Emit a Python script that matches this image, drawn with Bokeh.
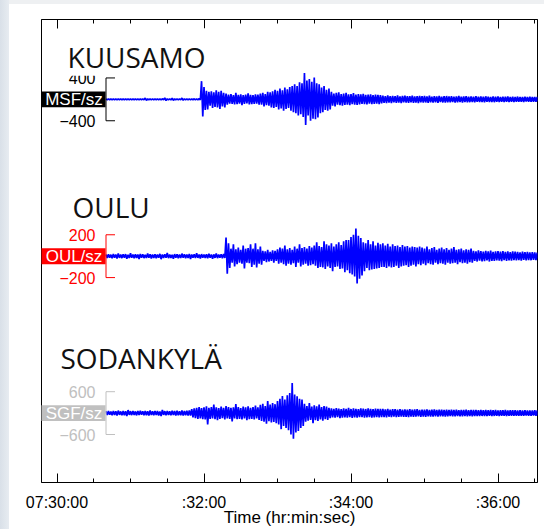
from bokeh.embed import file_html
from bokeh.models import BoxAnnotation, FixedTicker, Label, LinearAxis, Range1d
from bokeh.plotting import figure
from bokeh.resources import INLINE

# ---------------------------------------------------------------- data
# Time in seconds after 07:30:00; peaks are given per 2-s bin from 07:30:40.
SAMPLE_START = 40
SAMPLE_STEP = 2

TICK_SECONDS = [0, 120, 240, 360]
TICK_LABELS = ["07:30:00", ":32:00", ":34:00", ":36:00"]
MINOR_SECONDS = [30, 60, 90, 150, 180, 210, 270, 300, 330, 390]

CHANNELS = ["MSF/sz", "OUL/sz", "SGF/sz"]
STATIONS = ["KUUSAMO", "OULU", "SODANKYLÄ"]
SCALES = [400, 200, 600]  # counts marked by each scale bracket

# Kuusamo, vertical component: largest positive / negative counts in each bin
msf_up = [8, 9, 10, 9, 8, 10, 9, 11, 10, 8, 9, 10, 9, 8, 10, 9, 24, 9, 10, 8,
          9, 10, 9, 11, 26, 10, 9, 22, 10, 8, 9, 24, 10, 9, 8, 10, 11, 9, 14,
          340, 230, 160, 140, 150, 130, 170, 140, 160, 120, 110,
          90, 100, 80, 120, 85, 95, 80, 90, 110, 85, 80, 95, 90,
          110, 120, 100, 140, 130,
          150, 180, 160, 200, 170, 220, 190, 230, 250,
          280, 250, 320, 300, 490,
          350, 380, 330, 410, 300, 280,
          220, 250, 180, 200,
          140, 110, 120, 130, 100, 110, 120, 95, 100, 115, 90, 100, 95, 105, 85,
          90, 95, 80, 90, 85, 80,
          70, 62, 75, 58, 66, 60, 72, 55, 64, 68, 58, 62, 70, 54, 60, 66, 58, 63,
          56, 68, 52, 60, 57, 64, 50, 58, 62, 55, 60, 52, 57, 63, 50, 55, 60, 48,
          56, 52, 58, 50, 54, 48, 57, 52, 46, 55, 50, 53, 47, 52, 48, 55, 46, 50,
          45, 52, 47, 44, 50, 46, 48, 43, 47, 45]
msf_down = [9, 8, 9, 10, 9, 8, 10, 9, 8, 10, 9, 8, 10, 9, 8, 10, 20, 8, 9, 10,
            8, 9, 10, 8, 22, 9, 10, 20, 8, 9, 10, 18, 9, 10, 9, 8, 9, 10, 12,
            320, 200, 190, 120, 160, 140, 150, 180, 130, 150, 100,
            80, 85, 95, 90, 80, 110, 85, 75, 95, 90, 85, 80, 100,
            100, 130, 110, 120, 150,
            160, 140, 190, 170, 210, 180, 160, 210, 240,
            260, 300, 280, 330, 480,
            300, 400, 360, 370, 340, 260,
            240, 200, 210, 190,
            120, 130, 100, 110, 120, 105, 100, 110, 90, 100, 105, 95, 85, 90, 95,
            80, 90, 85, 80, 90, 75,
            65, 70, 60, 72, 58, 66, 62, 68, 55, 60, 66, 57, 64, 60, 68, 55, 62, 58,
            65, 54, 60, 56, 63, 52, 58, 60, 54, 57, 50, 62, 55, 52, 58, 49, 56, 53,
            50, 55, 48, 52, 50, 56, 47, 51, 49, 53, 46, 50, 48, 52, 45, 49, 47, 51,
            44, 48, 46, 50, 43, 47, 45, 44, 46, 42]

# Oulu, vertical component
oul_up = [15, 18, 14, 20, 16, 25, 15, 17, 19, 14, 28, 16, 18, 15, 20, 17, 14, 26,
          18, 15, 19, 16, 22, 15, 18, 30, 16, 14, 19, 17, 15, 24, 18, 16, 20, 15,
          17, 28, 16, 19, 15, 18, 22, 16, 17, 25, 15, 18, 20,
          175, 120,
          70, 110, 65, 80, 60, 100, 70,
          75, 110, 70, 120, 65, 90,
          50, 45, 60, 40, 55, 50,
          65, 80, 70, 100, 65, 75, 60, 90, 70, 110, 75, 85, 70, 95, 80,
          100, 130, 95, 85, 140, 110, 100, 120, 90, 110, 130, 105, 140, 150,
          150, 180, 200, 258, 190, 170,
          130, 120, 150, 110, 140, 100, 125, 110,
          120, 100, 115, 90, 110, 95, 100, 85, 105, 90, 95, 80, 90, 85, 80, 90,
          80, 70, 90, 65, 75, 85, 60, 70, 80, 65, 75, 60, 70, 85, 60, 65, 70, 55,
          65, 60, 70,
          50, 45, 55, 48, 42, 50, 46, 52, 40, 45, 48, 42, 47, 40, 44, 38, 45, 42,
          40, 36, 43, 38, 40, 35, 38, 36, 34]
oul_down = [16, 14, 19, 15, 22, 16, 18, 14, 24, 17, 15, 20, 16, 26, 15, 18, 17, 14,
            22, 16, 19, 15, 28, 17, 14, 18, 16, 25, 15, 19, 17, 14, 20, 16, 27, 15,
            18, 16, 21, 14, 17, 19, 15, 24, 16, 18, 15, 20, 17,
            165, 110,
            60, 95, 75, 60, 70, 115, 60,
            65, 100, 80, 105, 70, 80,
            45, 55, 50, 45, 60, 45,
            70, 60, 75, 90, 70, 80, 65, 100, 60, 95, 80, 70, 90, 85, 75,
            90, 110, 100, 105, 120, 95, 110, 140, 100, 95, 120, 115, 150, 130,
            160, 170, 190, 256, 210, 180,
            140, 110, 130, 125, 120, 115, 110, 100,
            100, 110, 95, 105, 100, 90, 110, 95, 90, 85, 100, 90, 80, 95, 75, 85,
            70, 85, 65, 75, 80, 60, 75, 65, 70, 80, 60, 70, 65, 60, 75, 55, 65, 60,
            70, 55, 60,
            45, 50, 42, 48, 46, 40, 50, 44, 45, 40, 42, 46, 38, 44, 40, 42, 37, 40,
            38, 41, 35, 39, 36, 38, 34, 36, 33]

# Sodankylä, vertical component
sgf_up = [50, 58, 45, 62, 55, 70, 48, 60, 52, 85, 55, 62, 48, 58, 66, 50, 60, 54,
          72, 50, 58, 62, 48, 90, 55, 60, 52, 68, 58, 64, 55, 72, 60, 66, 75,
          110, 130, 150, 170, 140, 160, 190, 150, 170, 240, 160, 140, 180, 150,
          200, 170, 150, 160, 250, 170, 140, 180, 160, 190, 150, 170, 210, 160,
          230, 260, 200, 340, 240, 280, 250,
          340, 400, 480, 380,
          500, 560, 840, 520, 470,
          400, 380,
          260, 200, 280, 180, 220, 190, 240, 170, 200, 180,
          150, 130, 120, 140, 125, 110, 135, 120, 145, 115, 130, 120, 110, 135,
          125, 115, 130, 120, 110, 125, 115, 120,
          115, 105, 120, 100, 110, 108, 95, 112, 100, 105, 98, 110, 95, 102, 108,
          92, 100, 96, 104, 90, 98, 102, 88, 95, 100, 92, 97, 86, 94, 90, 98, 85,
          92, 88, 95, 84, 90, 86, 92, 82, 88, 85, 90, 80, 86, 83, 88, 78, 84, 80,
          86, 76, 82, 79, 84, 75, 80, 77, 82, 74, 78, 75, 80, 72]
sgf_down = [55, 48, 60, 52, 66, 50, 58, 62, 80, 50, 57, 52, 64, 55, 48, 62, 58, 70,
            52, 60, 55, 66, 85, 50, 62, 56, 64, 52, 70, 60, 58, 66, 62, 72, 70,
            120, 140, 160, 150, 170, 180, 315, 160, 150, 170, 200, 160, 140, 180,
            150, 160, 230, 150, 170, 160, 180, 150, 200, 170, 160, 180, 150, 190,
            220, 240, 300, 230, 260, 250, 280,
            320, 450, 360, 420,
            480, 600, 715, 540, 500,
            420, 360,
            240, 210, 190, 280, 200, 220, 180, 210, 170, 190,
            140, 120, 130, 115, 140, 125, 120, 130, 110, 135, 120, 125, 115, 110,
            130, 120, 115, 125, 120, 110, 120, 115,
            110, 118, 102, 112, 100, 115, 105, 98, 108, 102, 112, 96, 104, 100, 94,
            106, 98, 102, 92, 100, 95, 90, 98, 94, 88, 96, 92, 86, 94, 90, 84, 92,
            88, 86, 90, 83, 88, 85, 82, 87, 80, 85, 83, 78, 84, 80, 77, 82, 79, 76,
            80, 77, 74, 79, 76, 73, 77, 75, 72, 76, 73, 71, 74, 70]

PEAKS_UP = [msf_up, oul_up, sgf_up]
PEAKS_DOWN = [msf_down, oul_down, sgf_down]

# -------------------------------------------------------------- layout
W, H = 544, 529
FRAME_L, FRAME_R, FRAME_T, FRAME_B = 41, 537, 19, 484
T0_PX = 56.5          # pixel column of 07:30:00
PX_PER_S = 1.225
CENTERS_PX = [99.2, 256.7, 414.3]
SCALE_PX = 21.5       # half height of a scale bracket
TITLE_POS = [(67, 57), (72, 207), (60, 359)]
CHANNEL_COLORS = ["#000000", "#ff0000", "#c0c0c0"]
TRACE_BLUE = "#0000ff"
SANS = "Liberation Sans"


def x_at(px):
    return (px - T0_PX) / PX_PER_S


def y_at(k, px):
    return (CENTERS_PX[k] - px) * SCALES[k] / SCALE_PX


p = figure(width=W, height=H, output_backend="svg", toolbar_location=None,
           x_range=Range1d(x_at(FRAME_L), x_at(FRAME_R)), y_range=Range1d(0, 1),
           x_axis_location=None, y_axis_location=None,
           min_border_left=FRAME_L, min_border_right=W - FRAME_R,
           min_border_top=FRAME_T, min_border_bottom=H - FRAME_B,
           background_fill_color="white", border_fill_color=None,
           outline_line_color="#000000", outline_line_width=1)
p.styles = {"background": "linear-gradient(to right, #d9e0e8 0px, #e7ecf1 9px, "
                          "rgba(255,255,255,0) 9px), "
                          "linear-gradient(to bottom, #eef0f2 0px, #eef0f2 4px, "
                          "#ffffff 4px)"}
for g in p.grid:
    g.visible = False

ticker = FixedTicker(ticks=TICK_SECONDS, minor_ticks=MINOR_SECONDS)
axis_style = dict(ticker=ticker, axis_line_color="#000000",
                  major_tick_in=9, major_tick_out=0, minor_tick_in=4,
                  minor_tick_out=0, major_tick_line_color="#000000",
                  minor_tick_line_color="#000000")
bottom = LinearAxis(major_label_overrides=dict(zip(TICK_SECONDS, TICK_LABELS)),
                    major_label_text_font=SANS, major_label_text_font_size="16px",
                    major_label_text_color="#000000", major_label_standoff=11,
                    axis_label="Time (hr:min:sec)", axis_label_text_font=SANS,
                    axis_label_text_font_size="17px",
                    axis_label_text_font_style="normal",
                    axis_label_text_color="#000000", axis_label_standoff=-6,
                    **axis_style)
p.add_layout(bottom, "below")
top = LinearAxis(major_label_text_font_size="1px", major_label_text_alpha=0,
                 major_label_standoff=0, **axis_style)
p.add_layout(top, "above")

times = [SAMPLE_START + SAMPLE_STEP * i for i in range(len(msf_up))]

for k in range(3):
    name = f"trace{k}"
    p.extra_y_ranges[name] = Range1d(y_at(k, FRAME_B), y_at(k, FRAME_T))
    color = CHANNEL_COLORS[k]
    s = SCALES[k]

    # seismogram: each bin swings from its positive peak to its negative peak
    xs, ys = [], []
    for t, u, d in zip(times, PEAKS_UP[k], PEAKS_DOWN[k]):
        xs += [t, t + SAMPLE_STEP / 2]
        ys += [u, -d]
    p.line(x=xs, y=ys, y_range_name=name, line_color=TRACE_BLUE, line_width=1.7)

    # channel tag
    c = CENTERS_PX[k]
    p.quad(left=x_at(30), right=x_at(105), top=y_at(k, c - 8), bottom=y_at(k, c + 8),
           y_range_name=name, fill_color=color, line_color=None)
    p.add_layout(Label(x=x_at(73.5), y=y_at(k, c), y_range_name=name,
                       text=CHANNELS[k], text_color="#ffffff", text_font=SANS,
                       text_font_size="17px", text_align="center",
                       text_baseline="middle"))

    # scale bracket
    bx = x_at(105.5)
    p.segment(x0=[bx, bx, bx], y0=[-s, s, -s], x1=[bx, x_at(114.5), x_at(114.5)],
              y1=[s, s, -s], y_range_name=name, line_color=color, line_width=1)
    for v in (s, -s):
        lab = str(v) if v > 0 else "\u2212" + str(-v)
        p.add_layout(Label(x=x_at(95), y=v, y_range_name=name, text=lab,
                           text_color=color, text_font=SANS, text_font_size="16px",
                           text_align="right", text_baseline="middle"))

    # trace number
    p.add_layout(Label(x=x_at(27.5), y=0, y_range_name=name, text=str(k + 1),
                       text_color="#000000", text_font=SANS, text_font_size="16px",
                       text_align="center", text_baseline="middle"))

    # station name on a white text box
    tx, ty = TITLE_POS[k]
    if k == 0:
        p.add_layout(BoxAnnotation(left=x_at(60), right=x_at(240),
                                   top=y_at(k, 28), bottom=y_at(k, 75.5),
                                   y_range_name=name, fill_color="#ffffff",
                                   fill_alpha=1, line_color=None))
    p.add_layout(Label(x=x_at(tx), y=y_at(k, ty), y_range_name=name,
                       text=STATIONS[k], text_color="#111111", text_font="Open Sans",
                       text_font_size="28px", text_align="left",
                       text_baseline="alphabetic"))

open("out.html", "w").write(file_html(p, INLINE))
